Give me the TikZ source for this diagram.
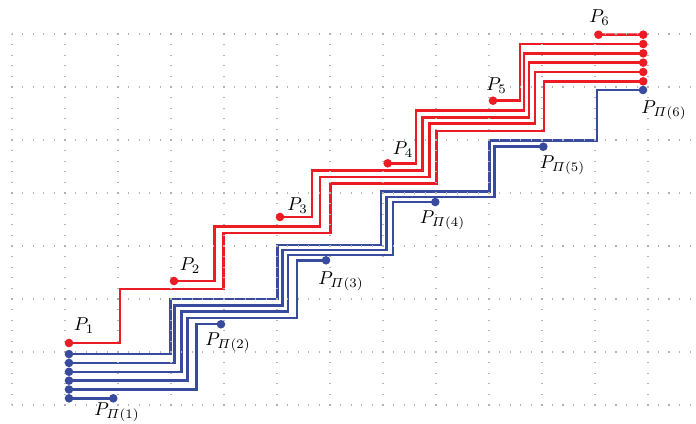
\documentclass[tikz,border=0pt]{standalone}
\usepackage{amsmath}
\definecolor{pathred}{RGB}{237,28,36}
\definecolor{pathblue}{RGB}{56,75,158}
\pgfdeclarelayer{bg}
\pgfsetlayers{bg,main}
\tikzset{
  gridline/.style={gray!60, line width=0.7pt, dash pattern=on 0.7pt off 4.99pt, dash phase=0.35pt},
  redpath/.style={pathred, line width=1.3pt},
  bluepath/.style={pathblue, line width=1.3pt},
  reddot/.style={circle, fill=pathred, inner sep=0pt, minimum size=4.6pt},
  bluedot/.style={circle, fill=pathblue, inner sep=0pt, minimum size=4.6pt},
  lbl/.style={inner sep=0pt}
}
\begin{document}
\begin{tikzpicture}[x=1cm,y=1cm]
\useasboundingbox (-0.2264,-0.3396) rectangle (12.9057,7.6415);

% dotted background grid
\foreach \y in {0,...,7} \draw[gridline] (0,\y) -- (12.85,\y);
\foreach \x in {0,...,12} \draw[gridline] (\x,0) -- (\x,7);

% points P_i
\node[reddot] (p1) at (1.0755,1.1698) {};
\node[reddot] (p2) at (3.0566,2.3396) {};
\node[reddot] (p3) at (5.0566,3.5472) {};
\node[reddot] (p4) at (7.0887,4.5604) {};
\node[reddot] (p5) at (9.0755,5.7415) {};
\node[reddot] (p6) at (11.066,6.9868) {};

% right-hand column of end points
\node[reddot] (e6) at (11.91,6.987) {};
\node[reddot] (e5) at (11.91,6.811) {};
\node[reddot] (e4) at (11.91,6.635) {};
\node[reddot] (e3) at (11.91,6.459) {};
\node[reddot] (e2) at (11.91,6.283) {};
\node[reddot] (e1) at (11.91,6.107) {};

% left-hand column of start points
\node[bluedot] (s1) at (1.0755,0.126) {};
\node[bluedot] (s2) at (1.0755,0.293) {};
\node[bluedot] (s3) at (1.0755,0.460) {};
\node[bluedot] (s4) at (1.0755,0.627) {};
\node[bluedot] (s5) at (1.0755,0.794) {};
\node[bluedot] (s6) at (1.0755,0.961) {};

% permuted points P_{Pi(j)}
\node[bluedot] (q1) at (1.911,0.126) {};
\node[bluedot] (q2) at (3.943,1.523) {};
\node[bluedot] (q3) at (5.925,2.730) {};
\node[bluedot] (q4) at (7.987,3.830) {};
\node[bluedot] (q5) at (10.025,4.874) {};
\node[bluedot] (q6) at (11.906,5.943) {};

% labels
\node[lbl] (lp1) at (1.358,1.491) {$P_1$};
\node[lbl] (lp2) at (3.358,2.623) {$P_2$};
\node[lbl] (lp3) at (5.387,3.764) {$P_3$};
\node[lbl] (lp4) at (7.377,4.811) {$P_4$};
\node[lbl] (lp5) at (9.142,6.028) {$P_5$};
\node[lbl] (lp6) at (11.085,7.302) {$P_6$};
\node[lbl] (lq1) at (1.981,-0.132) {$P_{\varPi(1)}$};
\node[lbl] (lq2) at (4.075,1.189) {$P_{\varPi(2)}$};
\node[lbl] (lq3) at (6.208,2.330) {$P_{\varPi(3)}$};
\node[lbl] (lq4) at (8.123,3.491) {$P_{\varPi(4)}$};
\node[lbl] (lq5) at (10.387,4.528) {$P_{\varPi(5)}$};
\node[lbl] (lq6) at (12.302,5.566) {$P_{\varPi(6)}$};

\begin{pgfonlayer}{bg}
% staircase paths from P_i to the right column
\draw[redpath] (p1.center) -| (2.038,2.189) -| (3.987,3.240) -| (6.009,4.183) -| (8.013,5.175) -| (10.038,6.107) -- (e1.center);
\draw[redpath] (p2.center) -| (3.817,3.364) -| (5.811,4.302) -| (7.874,5.315) -| (9.868,6.283) -- (e2.center);
\draw[redpath] (p3.center) -| (5.655,4.421) -| (7.742,5.428) -| (9.760,6.459) -- (e3.center);
\draw[redpath] (p4.center) -| (7.623,5.553) -| (9.660,6.635) -- (e4.center);
\draw[redpath] (p5.center) -| (9.585,6.811) -- (e5.center);
\draw[redpath] (p6.center) -- (e6.center);

% staircase paths from the left column to P_{Pi(j)}
\draw[bluepath] (s1.center) -- (q1.center);
\draw[bluepath] (s2.center) -| (3.485,1.523) -- (q2.center);
\draw[bluepath] (s3.center) -| (3.311,1.647) -| (5.377,2.730) -- (q3.center);
\draw[bluepath] (s4.center) -| (3.198,1.764) -| (5.213,2.830) -| (7.194,3.830) -- (q4.center);
\draw[bluepath] (s5.center) -| (3.066,1.877) -| (5.100,2.925) -| (7.070,3.930) -| (9.104,4.874) -- (q5.center);
\draw[bluepath] (s6.center) -| (2.991,2.000) -| (5.006,3.019) -| (6.962,4.025) -| (9.009,4.987) -| (11.038,5.943) -- (q6.center);
\end{pgfonlayer}
\end{tikzpicture}
\end{document}
